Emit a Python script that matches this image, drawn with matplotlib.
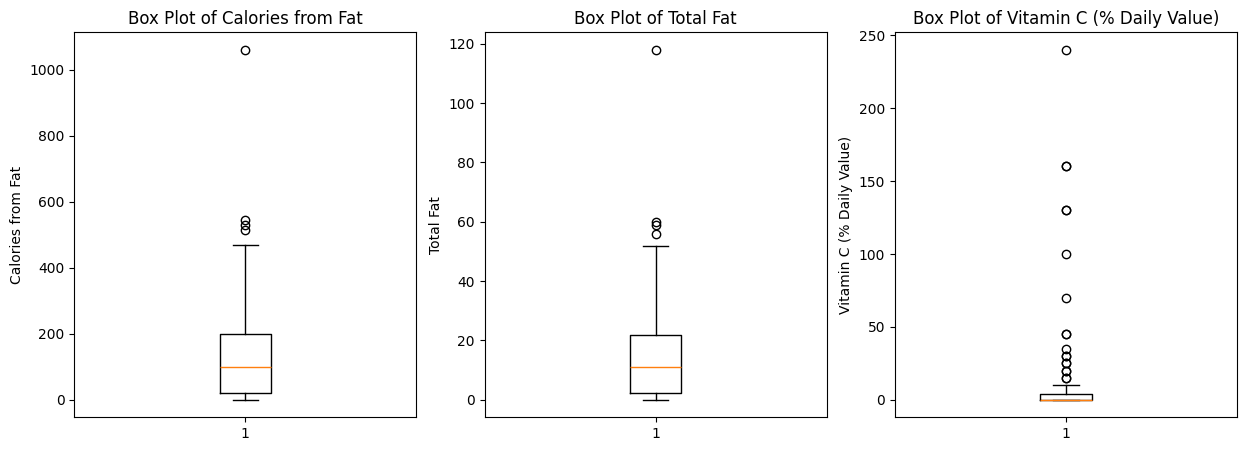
import matplotlib
matplotlib.use("Agg")
import matplotlib.pyplot as plt

# 讀圖估計的箱形圖統計值
columns = ["Calories from Fat", "Total Fat", "Vitamin C (% Daily Value)"]

whislo = [0, 0, 0]
q1 = [20, 2.3, 0]
med = [100, 11, 0]
q3 = [200, 22, 4]
whishi = [470, 52, 10]

fliers_cal = [513, 530, 543, 1060]
fliers_fat = [56, 59, 60, 118]
# 重複值讓圓圈看起來較粗
fliers_vitc = [15, 15, 20, 20, 25, 25, 30, 30, 35, 45, 45, 70, 100,
               130, 130, 160, 160, 240]
fliers = [fliers_cal, fliers_fat, fliers_vitc]

fig, axes = plt.subplots(1, 3, figsize=(15, 5))

for i, ax in enumerate(axes):
    stats = [{
        "label": "1",
        "whislo": whislo[i],
        "q1": q1[i],
        "med": med[i],
        "q3": q3[i],
        "whishi": whishi[i],
        "fliers": fliers[i],
    }]
    ax.bxp(stats, positions=[1])
    ax.set_title("Box Plot of " + columns[i])
    ax.set_ylabel(columns[i])

fig.savefig("out.png", dpi=100, bbox_inches="tight")
